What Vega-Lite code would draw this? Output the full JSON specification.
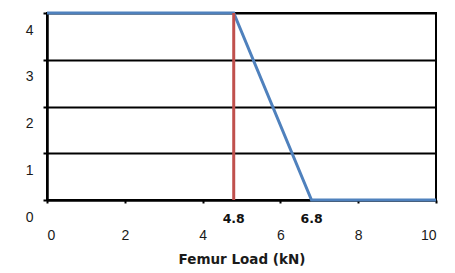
{
  "$schema": "https://vega.github.io/schema/vega-lite/v6.json",
  "autosize": "none",
  "width": 389,
  "height": 187,
  "padding": {"left": 47, "top": 13, "right": 19, "bottom": 73},
  "background": "white",
  "config": {
    "font": "Liberation Sans",
    "view": {"stroke": "black", "strokeWidth": 2}
  },
  "datasets": {
    "curve": [
      {"load": 0, "v": 4},
      {"load": 4.8, "v": 4},
      {"load": 6.8, "v": 0},
      {"load": 10, "v": 0}
    ],
    "marker": [{"load": 4.8, "lo": 0, "hi": 4}],
    "labels": [{"load": 4.8, "v": 0, "t": "4.8"}, {"load": 6.8, "v": 0, "t": "6.8"}]
  },
  "layer": [
    {
      "data": {"name": "curve"},
      "mark": {"type": "line", "color": "#4F81BD", "strokeWidth": 3, "clip": false},
      "encoding": {
        "x": {
          "field": "load", "type": "quantitative",
          "scale": {"domain": [0, 10], "nice": false, "zero": false},
          "axis": {
            "values": [0, 2, 4, 6, 8, 10],
            "grid": false,
            "domainColor": "black", "domainWidth": 2,
            "tickColor": "black", "tickWidth": 2, "tickSize": 3,
            "labelPadding": 25, "labelFontSize": 14, "labelColor": "#1a1a1a",
            "title": "Femur Load (kN)", "titleFont": "DejaVu Sans", "titleFontSize": 13.5, "titleFontWeight": "bold",
            "titleColor": "#1a1a1a", "titlePadding": 10
          }
        },
        "y": {
          "field": "v", "type": "quantitative",
          "scale": {"domain": [0, 4], "nice": false},
          "axis": {
            "values": [0, 1, 2, 3, 4],
            "grid": true, "gridColor": "black", "gridWidth": 2, "gridOpacity": 1,
            "domainColor": "black", "domainWidth": 2.5,
            "tickColor": "black", "tickWidth": 2, "tickSize": 4,
            "labelPadding": 10, "labelFontSize": 14, "labelColor": "#1a1a1a",
            "labelOffset": 17,
            "title": null
          }
        },
        "order": {"field": "load"}
      }
    },
    {
      "data": {"name": "marker"},
      "mark": {"type": "rule", "color": "#C0504D", "strokeWidth": 3},
      "encoding": {
        "x": {"field": "load", "type": "quantitative"},
        "y": {"field": "lo", "type": "quantitative"},
        "y2": {"field": "hi"}
      }
    },
    {
      "data": {"name": "labels"},
      "mark": {"type": "text", "font": "DejaVu Sans", "fontWeight": "bold", "fontSize": 12.5, "dy": 19, "color": "#111"},
      "encoding": {
        "x": {"field": "load", "type": "quantitative"},
        "y": {"field": "v", "type": "quantitative"},
        "text": {"field": "t"}
      }
    }
  ]
}
